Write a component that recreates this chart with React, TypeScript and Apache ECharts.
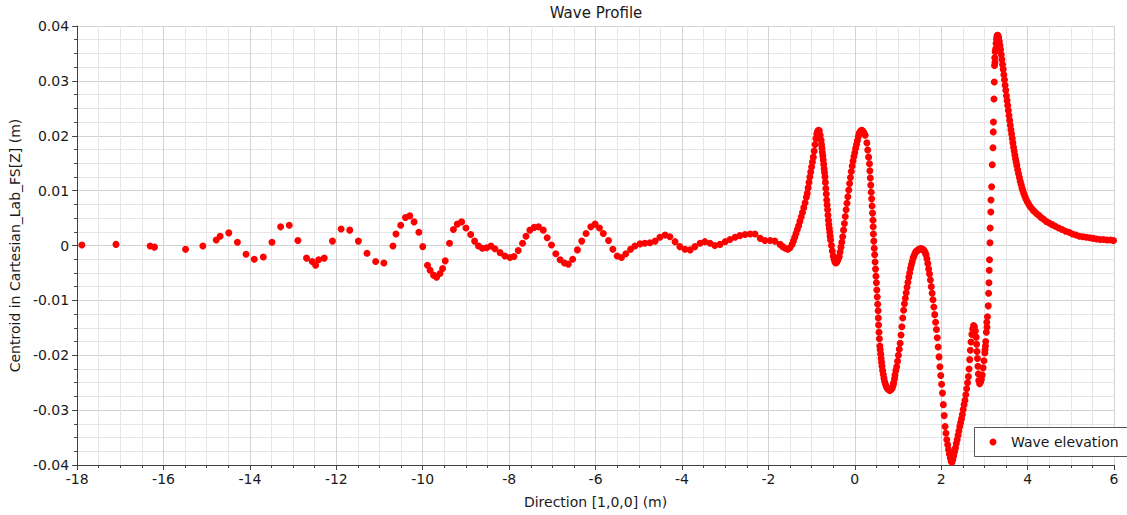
import React, { useEffect, useRef } from "react";
import * as echarts from "echarts";

const chartTitle = "Wave Profile";
const seriesName = "Wave elevation";
const xAxisName = "Direction [1,0,0] (m)";
const yAxisName = "Centroid in Cartesian_Lab_FS[Z] (m)";
const xMin = -18;
const xMax = 6;
const xStep = 2;
const yMin = -0.04;
const yMax = 0.04;
const yStep = 0.01;

// far upstream, sparse samples
const upstreamPoints: number[][] = [
  [-17.89, 0.0001], [-17.1, 0.0002], [-16.31, -0.0001], [-16.21, -0.0003], [-15.49, -0.0007],
  [-15.09, -0.0001], [-14.78, 0.001], [-14.69, 0.0017], [-14.49, 0.0023], [-14.29, 0.0006],
  [-14.09, -0.0016], [-13.9, -0.0025], [-13.69, -0.0021], [-13.49, 0.0006], [-13.29, 0.0034],
  [-13.09, 0.0037], [-12.89, 0.0009], [-12.69, -0.0023], [-12.56, -0.0029], [-12.48, -0.0036],
  [-12.41, -0.0026], [-12.28, -0.0023], [-12.09, 0.0008], [-11.89, 0.003], [-11.69, 0.0028],
  [-11.49, 0.0008], [-11.29, -0.0014], [-11.09, -0.0029], [-10.9, -0.0032], [-10.69, -0.0001],
  [-10.62, 0.0021], [-10.51, 0.0037], [-10.4, 0.0051], [-10.3, 0.0054], [-10.2, 0.0043],
  [-10.09, 0.0024], [-10.0, -0.0002], [-9.89, -0.0036], [-9.83, -0.0045], [-9.75, -0.0054],
  [-9.68, -0.0058], [-9.6, -0.0051], [-9.54, -0.0042], [-9.48, -0.0028], [-9.38, 0.0004],
  [-9.29, 0.0029], [-9.2, 0.0039],
];

// middle region
const middlePoints: number[][] = [
  [-9.1, 0.0043], [-9.0, 0.0032], [-8.89, 0.002], [-8.8, 0.0008], [-8.71, -0.0001],
  [-8.62, -0.0005], [-8.52, -0.0004], [-8.42, -0.0001], [-8.33, -0.0006], [-8.21, -0.0013],
  [-8.1, -0.0019], [-7.98, -0.0022], [-7.89, -0.002], [-7.79, -0.0009], [-7.69, 0.0004],
  [-7.61, 0.0017], [-7.52, 0.0028], [-7.42, 0.0033], [-7.32, 0.0034], [-7.21, 0.0028],
  [-7.12, 0.0014], [-7.02, 0.0001], [-6.92, -0.0015], [-6.82, -0.0026], [-6.72, -0.0032],
  [-6.63, -0.0034], [-6.53, -0.0025], [-6.42, -0.0008], [-6.32, 0.0008], [-6.22, 0.0022],
  [-6.11, 0.0034], [-6.01, 0.0039], [-5.91, 0.0032], [-5.82, 0.0022], [-5.7, 0.0009],
  [-5.6, -0.0007], [-5.5, -0.0019], [-5.4, -0.0022], [-5.3, -0.0015], [-5.19, -0.0007],
  [-5.09, -0.0001], [-4.97, 0.0003], [-4.86, 0.0004], [-4.74, 0.0005], [-4.62, 0.0008],
  [-4.51, 0.0015], [-4.39, 0.0019], [-4.28, 0.0016], [-4.16, 0.0007], [-4.05, -0.0002],
  [-3.93, -0.0007], [-3.81, -0.0008], [-3.7, -0.0002], [-3.58, 0.0004], [-3.47, 0.0007],
  [-3.35, 0.0004], [-3.24, 0.0], [-3.12, 0.0002], [-3.0, 0.0007], [-2.89, 0.0011],
  [-2.77, 0.0015], [-2.66, 0.0018], [-2.54, 0.002], [-2.42, 0.0021], [-2.31, 0.0021],
  [-2.19, 0.0013], [-2.08, 0.0009], [-1.96, 0.0009], [-1.85, 0.0008], [-1.73, 0.0002],
  [-1.67, -0.0002], [-1.61, -0.0005], [-1.55, -0.0007], [-1.5, -0.0004],
];

// two crests near the origin
const twinCrestPoints: number[][] = [
  [-1.45, 0.0002], [-1.42, 0.0008], [-1.39, 0.0015], [-1.36, 0.0022], [-1.33, 0.0029],
  [-1.3, 0.0036], [-1.27, 0.0044], [-1.24, 0.0052], [-1.21, 0.006], [-1.18, 0.0069],
  [-1.15, 0.0078], [-1.12, 0.0088], [-1.1, 0.0095], [-1.08, 0.0105], [-1.06, 0.0115],
  [-1.04, 0.0125], [-1.02, 0.0134], [-1.0, 0.0143], [-0.98, 0.0152], [-0.96, 0.0161],
  [-0.94, 0.0172], [-0.92, 0.0184], [-0.9, 0.0195], [-0.88, 0.0203], [-0.86, 0.0208],
  [-0.84, 0.021], [-0.82, 0.0209], [-0.8, 0.0201], [-0.78, 0.0192], [-0.77, 0.0184],
  [-0.76, 0.0177], [-0.75, 0.017], [-0.74, 0.0163], [-0.73, 0.0156], [-0.72, 0.0148],
  [-0.71, 0.014], [-0.7, 0.0133], [-0.69, 0.0125], [-0.68, 0.0115], [-0.67, 0.0104],
  [-0.66, 0.0094], [-0.65, 0.0083], [-0.64, 0.0074], [-0.63, 0.0065], [-0.62, 0.0055],
  [-0.61, 0.0046], [-0.6, 0.0038], [-0.59, 0.0031], [-0.58, 0.0024], [-0.57, 0.0017],
  [-0.56, 0.001], [-0.54, 0.0], [-0.52, -0.001], [-0.5, -0.0019], [-0.48, -0.0025],
  [-0.46, -0.003], [-0.44, -0.0032], [-0.42, -0.0031], [-0.4, -0.0028], [-0.38, -0.0024],
  [-0.36, -0.002], [-0.34, -0.0012], [-0.32, -0.0003], [-0.3, 0.0006], [-0.28, 0.0016],
  [-0.26, 0.0028], [-0.24, 0.004], [-0.22, 0.0053], [-0.2, 0.0065], [-0.18, 0.0077],
  [-0.16, 0.0089], [-0.14, 0.0101], [-0.12, 0.0113], [-0.1, 0.0124], [-0.08, 0.0135],
  [-0.06, 0.0145], [-0.04, 0.0154], [-0.02, 0.0162], [0.0, 0.0169], [0.02, 0.0177],
  [0.04, 0.0184], [0.06, 0.0191], [0.08, 0.0198], [0.1, 0.0204], [0.12, 0.0207],
  [0.14, 0.0209], [0.16, 0.021], [0.18, 0.0209], [0.2, 0.0207], [0.22, 0.0204],
];

// steep descent, troughs and the small bump
const troughPoints: number[][] = [
  [0.24, 0.0201], [0.28, 0.0187], [0.3, 0.0174], [0.32, 0.0161], [0.34, 0.0149],
  [0.35, 0.0136], [0.36, 0.0123], [0.37, 0.011], [0.38, 0.0097], [0.39, 0.0085],
  [0.4, 0.0072], [0.41, 0.0059], [0.42, 0.0046], [0.425, 0.0034], [0.43, 0.0021],
  [0.44, 0.0008], [0.45, -0.0005], [0.46, -0.0017], [0.47, -0.003], [0.48, -0.0043],
  [0.49, -0.0056], [0.5, -0.0068], [0.51, -0.0081], [0.52, -0.0094], [0.53, -0.0107],
  [0.54, -0.0119], [0.545, -0.0132], [0.55, -0.0145], [0.56, -0.0158], [0.57, -0.017],
  [0.58, -0.0183], [0.59, -0.019], [0.6, -0.0198], [0.61, -0.0206], [0.62, -0.0213],
  [0.63, -0.022], [0.645, -0.0228], [0.66, -0.0235], [0.675, -0.0242], [0.69, -0.0248],
  [0.71, -0.0253], [0.73, -0.0257], [0.75, -0.026], [0.77, -0.0262], [0.79, -0.0263],
  [0.81, -0.0264], [0.83, -0.0263], [0.85, -0.0262], [0.87, -0.0259], [0.89, -0.0254],
  [0.9, -0.025], [0.92, -0.0243], [0.93, -0.0236], [0.95, -0.0228], [0.97, -0.0221],
  [0.99, -0.0211], [1.01, -0.02], [1.03, -0.0189], [1.05, -0.0178], [1.07, -0.0163],
  [1.09, -0.0148], [1.11, -0.0132], [1.13, -0.0118], [1.15, -0.0106], [1.17, -0.0096],
  [1.19, -0.0086], [1.21, -0.0076], [1.23, -0.0067], [1.25, -0.0058], [1.27, -0.005],
  [1.29, -0.0042], [1.31, -0.0035], [1.33, -0.0029], [1.35, -0.0023], [1.37, -0.0019],
  [1.39, -0.0015], [1.41, -0.0012], [1.43, -0.001], [1.45, -0.0009], [1.47, -0.0008],
  [1.49, -0.0007], [1.51, -0.0006], [1.53, -0.0006], [1.55, -0.0006], [1.57, -0.0007],
  [1.59, -0.0008], [1.61, -0.001], [1.63, -0.0013], [1.65, -0.0017], [1.67, -0.0024],
  [1.69, -0.0033], [1.71, -0.0043], [1.73, -0.0052], [1.75, -0.0063], [1.77, -0.0075],
  [1.79, -0.0087], [1.81, -0.0099], [1.83, -0.0112], [1.85, -0.0126], [1.87, -0.014],
  [1.89, -0.0153], [1.91, -0.0168], [1.93, -0.0185], [1.95, -0.0203], [1.97, -0.0221],
  [1.99, -0.0237], [2.01, -0.0253], [2.03, -0.0269], [2.05, -0.029], [2.07, -0.031],
  [2.09, -0.033], [2.11, -0.0342], [2.13, -0.0354], [2.15, -0.0363], [2.17, -0.0372],
  [2.19, -0.038], [2.21, -0.0387], [2.23, -0.0393], [2.25, -0.0395], [2.27, -0.039],
  [2.29, -0.0383], [2.31, -0.0376], [2.33, -0.0369], [2.35, -0.0361], [2.37, -0.0354],
  [2.39, -0.0346], [2.41, -0.0338], [2.43, -0.033], [2.45, -0.0323], [2.47, -0.0316],
  [2.49, -0.0308], [2.51, -0.0299], [2.53, -0.029], [2.55, -0.0282], [2.57, -0.0272],
  [2.59, -0.0261], [2.61, -0.025], [2.63, -0.0239], [2.645, -0.0225], [2.66, -0.0208],
  [2.675, -0.0191], [2.69, -0.0176], [2.71, -0.0162], [2.73, -0.0152], [2.75, -0.0146],
  [2.77, -0.0148], [2.79, -0.0156], [2.81, -0.0167], [2.82, -0.018], [2.83, -0.0193],
  [2.84, -0.0206], [2.85, -0.022], [2.86, -0.0234], [2.87, -0.0246], [2.89, -0.0252],
  [2.91, -0.0249], [2.93, -0.0244], [2.95, -0.0236], [2.97, -0.0223], [2.99, -0.021],
  [3.01, -0.0196], [3.015, -0.019], [3.03, -0.0175], [3.045, -0.0158], [3.055, -0.014],
];

// steep rise to the highest crest and its decay
const mainCrestPoints: number[][] = [
  [3.025, -0.0183], [3.06, -0.0149], [3.071, -0.013], [3.09, -0.011], [3.097, -0.0087],
  [3.106, -0.0068], [3.113, -0.0045], [3.118, -0.0026], [3.129, 0.0005], [3.134, 0.0032],
  [3.148, 0.0061], [3.152, 0.0083], [3.168, 0.0107], [3.182, 0.0147], [3.199, 0.0178],
  [3.206, 0.0207], [3.21, 0.0225], [3.222, 0.0267], [3.229, 0.0298], [3.235, 0.0328],
  [3.245, 0.0334], [3.24, 0.0342], [3.25, 0.0353], [3.26, 0.0358], [3.27, 0.0368],
  [3.28, 0.0376], [3.29, 0.0381], [3.3, 0.0383], [3.31, 0.0383], [3.32, 0.0381],
  [3.33, 0.0378], [3.345, 0.0372], [3.36, 0.0365], [3.375, 0.0357], [3.39, 0.0348],
  [3.405, 0.0339], [3.42, 0.033], [3.435, 0.0321], [3.45, 0.0311], [3.465, 0.0302],
  [3.48, 0.0292], [3.495, 0.0283], [3.51, 0.0273], [3.525, 0.0264], [3.54, 0.0255],
  [3.555, 0.0246], [3.57, 0.0237], [3.585, 0.0228], [3.6, 0.0219], [3.615, 0.0211],
  [3.63, 0.0203], [3.645, 0.0195], [3.66, 0.0187], [3.675, 0.0179], [3.69, 0.0172],
  [3.705, 0.0165], [3.72, 0.0158], [3.735, 0.0152], [3.75, 0.0146], [3.77, 0.0138],
  [3.79, 0.0131], [3.81, 0.0124], [3.83, 0.0117], [3.85, 0.0111], [3.87, 0.0105],
  [3.89, 0.01], [3.91, 0.0095], [3.935, 0.009], [3.96, 0.0085], [3.99, 0.008],
  [4.02, 0.0076], [4.05, 0.0072], [4.09, 0.0068], [4.13, 0.0064], [4.17, 0.0061],
  [4.21, 0.0058], [4.26, 0.0055], [4.31, 0.0051], [4.37, 0.0048], [4.43, 0.0044],
  [4.5, 0.0041], [4.57, 0.0038], [4.64, 0.0035], [4.72, 0.0032], [4.8, 0.0029],
  [4.88, 0.0026], [4.96, 0.0024], [5.04, 0.0021], [5.12, 0.0019], [5.2, 0.0017],
  [5.28, 0.0016], [5.36, 0.0015], [5.44, 0.0014], [5.52, 0.0013], [5.6, 0.0012],
  [5.68, 0.0011], [5.76, 0.0011], [5.84, 0.001], [5.92, 0.001], [5.99, 0.0009],
];

const FONT = "DejaVu Sans";
const TEXT = "#1a1a1a";
const AXIS = "#404040";

export default function App() {
  const ref = useRef<HTMLDivElement>(null);
  useEffect(() => {
    if (!ref.current) return;
    const chart = echarts.init(ref.current, null, { renderer: "svg" });
    const data = [
      ...upstreamPoints,
      ...middlePoints,
      ...twinCrestPoints,
      ...troughPoints,
      ...mainCrestPoints,
    ];
    chart.setOption({
      animation: false,
      backgroundColor: "#ffffff",
      textStyle: { fontFamily: FONT },
      title: {
        text: chartTitle,
        left: 596,
        top: 5,
        padding: 0,
        textAlign: "center",
        textStyle: { fontFamily: FONT, fontSize: 15, fontWeight: "normal", color: TEXT },
      },
      grid: { left: 77, right: 13, top: 26, bottom: 50, containLabel: false },
      graphic: [
        {
          type: "rect",
          z: 3,
          shape: { x: 974.5, y: 427.5, width: 220, height: 29 },
          style: { fill: "#ffffff", stroke: "#555555", lineWidth: 1 },
          silent: true,
        },
      ],
      legend: {
        left: 989.5,
        top: 428,
        padding: [7, 0, 7, 0],
        borderWidth: 0,
        backgroundColor: "transparent",
        icon: "circle",
        itemWidth: 26,
        itemHeight: 7,
        textStyle: { fontFamily: FONT, fontSize: 14, color: TEXT },
        data: [seriesName],
      },
      xAxis: {
        type: "value",
        min: xMin,
        max: xMax,
        interval: xStep,
        name: xAxisName,
        nameLocation: "middle",
        nameGap: 30,
        nameTextStyle: { fontFamily: FONT, fontSize: 14, color: TEXT },
        axisLine: { onZero: false, lineStyle: { color: AXIS, width: 1 } },
        axisTick: { show: true, length: 5, lineStyle: { color: AXIS } },
        minorTick: { show: true, splitNumber: 4, length: 3, lineStyle: { color: AXIS } },
        axisLabel: { fontFamily: FONT, fontSize: 14, color: TEXT, margin: 7 },
        splitLine: { show: true, lineStyle: { color: "#d2d2d2", width: 1 } },
        minorSplitLine: { show: true, lineStyle: { color: "#e6e6e6", width: 1 } },
      },
      yAxis: {
        type: "value",
        min: yMin,
        max: yMax,
        interval: yStep,
        name: yAxisName,
        nameLocation: "middle",
        nameGap: 49,
        nameTextStyle: { fontFamily: FONT, fontSize: 14, color: TEXT },
        axisLine: { show: true, onZero: false, lineStyle: { color: AXIS, width: 1 } },
        axisTick: { show: true, length: 5, lineStyle: { color: AXIS } },
        minorTick: { show: true, splitNumber: 4, length: 3, lineStyle: { color: AXIS } },
        axisLabel: {
          fontFamily: FONT,
          fontSize: 14,
          color: TEXT,
          margin: 8,
          formatter: (v: number) => String(Math.round(v * 100) / 100),
        },
        splitLine: { show: true, lineStyle: { color: "#d2d2d2", width: 1 } },
        minorSplitLine: { show: true, lineStyle: { color: "#e6e6e6", width: 1 } },
      },
      series: [
        {
          type: "scatter",
          name: seriesName,
          data,
          symbol: "circle",
          symbolSize: 7,
          itemStyle: { color: "#ff0000", opacity: 1 },
          emphasis: { disabled: true },
        },
      ],
    });
    return () => chart.dispose();
  }, []);
  return (
    <div
      ref={ref}
      style={{ position: "fixed", left: 0, top: 0, width: 1127, height: 515 }}
    />
  );
}
